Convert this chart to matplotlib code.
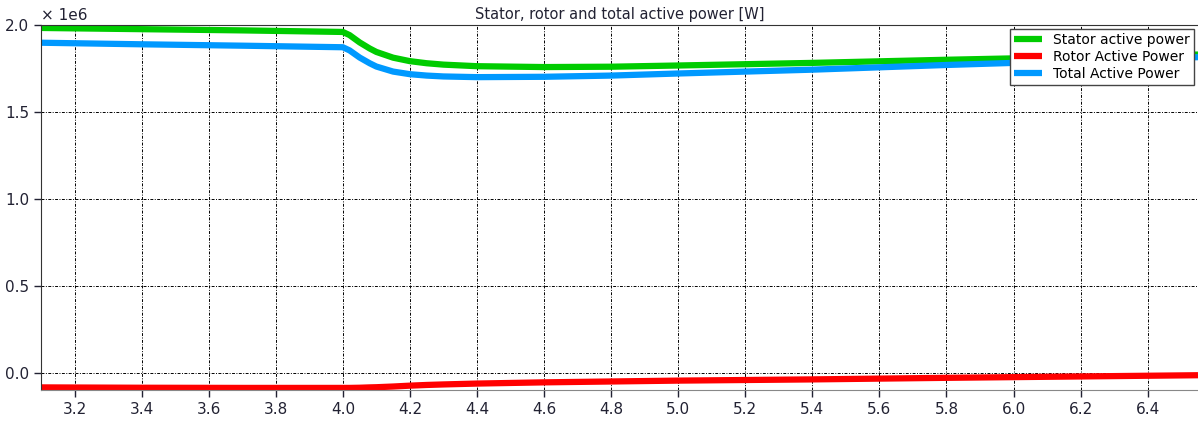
import numpy as np
import matplotlib.pyplot as plt
from matplotlib.ticker import FuncFormatter, MultipleLocator

# time samples [s] and active powers [W]
t = [3.1, 3.4, 3.7, 4.0, 4.02, 4.05, 4.08, 4.1, 4.15, 4.2, 4.25, 4.3, 4.4, 4.6, 4.8, 5.0,
     5.4, 5.8, 6.0, 6.2, 6.55]
p_stator = [1.983e6, 1.976e6, 1.969e6, 1.960e6, 1.942e6, 1.900e6, 1.865e6, 1.845e6, 1.812e6,
            1.792e6, 1.780e6, 1.772e6, 1.763e6, 1.758e6, 1.760e6, 1.767e6, 1.782e6, 1.800e6,
            1.808e6, 1.815e6, 1.830e6]
p_rotor = [-0.085e6, -0.087e6, -0.088e6, -0.088e6, -0.088e6, -0.087e6, -0.085e6, -0.084e6,
           -0.080e6, -0.075e6, -0.071e6, -0.068e6, -0.063e6, -0.056e6, -0.051e6, -0.046e6,
           -0.039e6, -0.030e6, -0.026e6, -0.022e6, -0.015e6]
p_total = [1.898e6, 1.889e6, 1.881e6, 1.872e6, 1.854e6, 1.813e6, 1.780e6, 1.761e6, 1.732e6,
           1.717e6, 1.709e6, 1.704e6, 1.700e6, 1.702e6, 1.709e6, 1.721e6, 1.743e6, 1.770e6,
           1.782e6, 1.793e6, 1.815e6]

fig = plt.figure(figsize=(11.98, 4.21), dpi=100)
ax = fig.add_axes([41 / 1198, 31 / 421, 1 - 41 / 1198, 365 / 421])

ax.plot(t, p_stator, color="#00cc00", lw=4.5, label="Stator active power", solid_capstyle="butt")
ax.plot(t, p_rotor, color="#ff0000", lw=4.5, label="Rotor Active Power", solid_capstyle="butt")
ax.plot(t, p_total, color="#0099ff", lw=4.5, label="Total Active Power", solid_capstyle="butt")

ax.set_xlim(3.1, 6.55)
ax.set_ylim(-0.1e6, 2.0e6)
ax.xaxis.set_major_locator(MultipleLocator(0.2))
ax.yaxis.set_major_locator(MultipleLocator(0.5e6))
ax.xaxis.set_major_formatter(FuncFormatter(lambda v, p: f"{v:.1f}"))
ax.yaxis.set_major_formatter(FuncFormatter(lambda v, p: f"{v / 1e6:.1f}"))
ax.tick_params(labelsize=11, colors="#222233", length=5, width=1)

ax.grid(True, color="black", linestyle=(0, (3, 1.5, 1, 1.5)), linewidth=0.7)
ax.spines["right"].set_visible(False)
ax.spines["bottom"].set_color("#888888")
ax.spines["top"].set_color("#333333")
ax.spines["left"].set_color("#333333")

ax.set_title("Stator, rotor and total active power [W]", fontsize=10.5, color="#222233", pad=4)
ax.text(0.0, 1.005, "× 1e6", transform=ax.transAxes, fontsize=11, color="#222233",
        ha="left", va="bottom")

leg = ax.legend(loc="upper right", fontsize=10, frameon=True, fancybox=False,
                borderaxespad=0.3, handlelength=2.0, labelspacing=0.2, borderpad=0.3)
leg.get_frame().set_edgecolor("#444444")
leg.get_frame().set_alpha(1)

fig.savefig("out.png", dpi=100)
